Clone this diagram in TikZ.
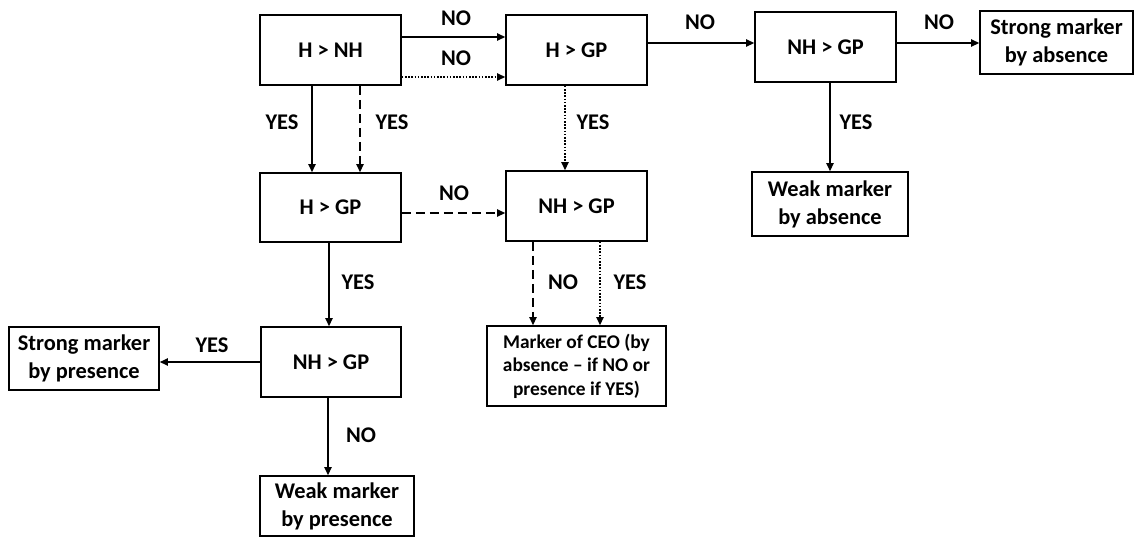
\documentclass[tikz,border=0pt]{standalone}
\usepackage{fontspec}
\setmainfont{Carlito}
\usetikzlibrary{arrows.meta}
\tikzset{
	box/.style={draw, line width=0.8pt, inner sep=0pt, align=center, font=\fontsize{11.2}{14}\selectfont\bfseries},
	lbl/.style={inner sep=0pt, font=\fontsize{11.2}{14}\selectfont\bfseries},
	arr/.style={line width=0.8pt, -{Triangle[length=4pt,width=3.6pt]}},
	dsh/.style={dash pattern=on 4.5pt off 2.5pt},
	dtt/.style={dash pattern=on 0.8pt off 0.8pt}
}

\begin{document}
\begin{tikzpicture}[x=0.5pt, y=-0.5pt]
				\useasboundingbox (0,0) rectangle (1135,536);
				
				\node[box, minimum width=70.5pt, minimum height=35pt] (hnh) at (330.5,50) {H > NH};
				\node[box, minimum width=70.5pt, minimum height=35pt] (hgpa) at (576.5,50) {H > GP};
				\node[box, minimum width=70.5pt, minimum height=35pt] (nhgpa) at (825.5,47) {NH > GP};
				\node[box, minimum width=76.5pt, minimum height=31.5pt] (strongabs) at (1056.5,42.5) {Strong marker\\by absence};
				\node[box, minimum width=78pt, minimum height=32pt] (weakabs) at (830,204) {Weak marker\\by absence};
				
				\node[box, minimum width=70.5pt, minimum height=34.5pt] (hgpb) at (330.5,207.5) {H > GP};
				\node[box, minimum width=70.5pt, minimum height=35pt] (nhgpb) at (576.5,206) {NH > GP};
				
				\node[box, minimum width=70pt, minimum height=35pt] (nhgpc) at (331,362) {NH > GP};
				\node[box, minimum width=75pt, minimum height=31.5pt] (strongpres) at (84,358.5) {Strong marker\\by presence};
				\node[box, minimum width=89.5pt, minimum height=40pt, font=\fontsize{9.7}{11.7}\selectfont\bfseries] (ceo) at (576.5,366) {Marker of CEO (by\\absence -- if NO or\\presence if YES)};
				\node[box, minimum width=77pt, minimum height=30pt] (weakpres) at (337,506) {Weak marker\\by presence};
				
				\draw[arr] ([yshift=6.5pt]hnh.east) -- ([yshift=6.5pt]hgpa.west);
				\draw[arr, dtt] ([yshift=-13.5pt]hnh.east) -- ([yshift=-13.5pt]hgpa.west);
				\draw[arr] ([xshift=-9.25pt]hnh.south) -- ([xshift=-9.25pt]hgpb.north);
				\draw[arr, dsh] ([xshift=14.75pt]hnh.south) -- ([xshift=14.75pt]hgpb.north);
				
				\draw[arr] ([yshift=3.5pt]hgpa.east) -- ([yshift=2pt]nhgpa.west);
				\draw[arr] ([yshift=2pt]nhgpa.east) -- ([yshift=2pt]nhgpa.east -| strongabs.west);
				\draw[arr] (nhgpa.south -| weakabs.north) -- (weakabs.north);
				\draw[arr, dtt] ([xshift=-5.75pt]hgpa.south) -- ([xshift=-5.75pt]nhgpb.north);
				
				\draw[arr, dsh] ([yshift=-2.75pt]hgpb.east) -- ([yshift=-2.75pt]hgpb.east -| nhgpb.west);
				\draw[arr] ([xshift=-0.75pt]hgpb.south) -- ([xshift=-1pt]nhgpc.north);
				
				\draw[arr] (nhgpc.west) -- (nhgpc.west -| strongpres.east);
				\draw[arr] ([xshift=-1.5pt]nhgpc.south) -- ([xshift=-1.5pt]nhgpc.south |- weakpres.north);
				
				\draw[arr, dsh] ([xshift=-21.75pt]nhgpb.south) -- ([xshift=-21.75pt]nhgpb.south |- ceo.north);
				\draw[arr, dtt] ([xshift=11.75pt]nhgpb.south) -- ([xshift=11.75pt]nhgpb.south |- ceo.north);
				
				\node[lbl] (lnoa) at (456,18) {NO};
				\node[lbl] (lnob) at (456,58) {NO};
				\node[lbl] (lyesa) at (282,122) {YES};
				\node[lbl] (lyesb) at (392,122) {YES};
				\node[lbl] (lyesc) at (593,122) {YES};
				\node[lbl] (lnoc) at (700,22) {NO};
				\node[lbl] (lnod) at (939,22) {NO};
				\node[lbl] (lyesd) at (856,122) {YES};
				\node[lbl] (lnoe) at (454,193) {NO};
				\node[lbl] (lyese) at (358,282) {YES};
				\node[lbl] (lnof) at (563,282) {NO};
				\node[lbl] (lyesf) at (630,282) {YES};
				\node[lbl] (lyesg) at (212,345) {YES};
				\node[lbl] (lnog) at (361,435) {NO};
			\end{tikzpicture}
\end{document}
